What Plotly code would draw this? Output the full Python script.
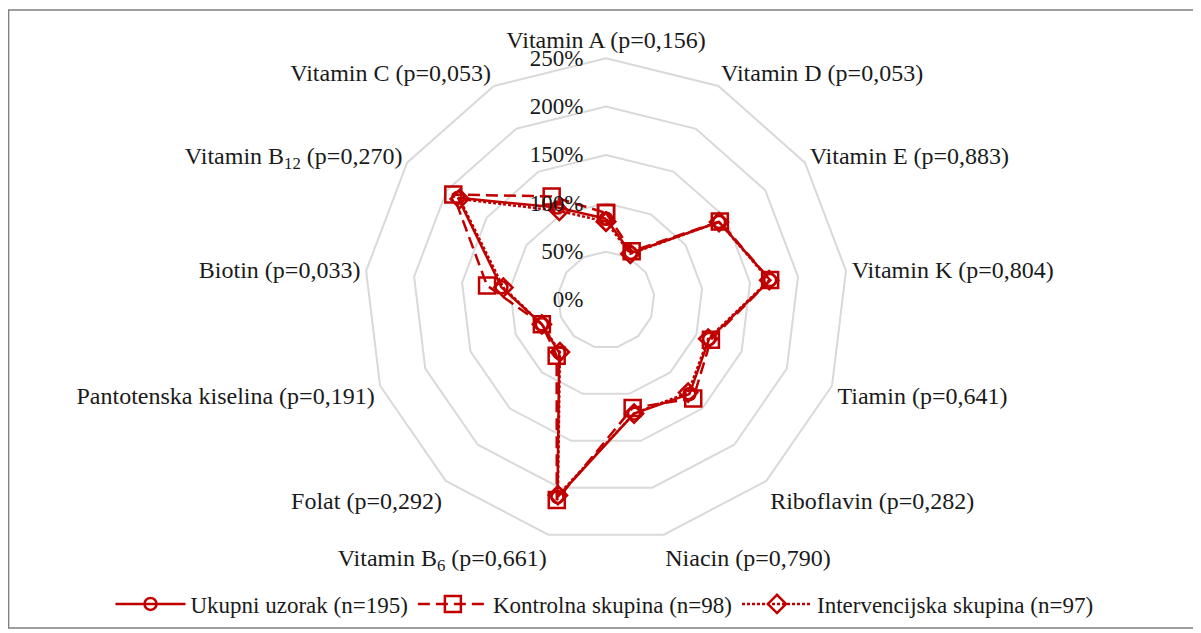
import plotly.graph_objects as go

# categories clockwise from the top
categories = ['Vitamin A (p=0,156)', 'Vitamin D (p=0,053)', 'Vitamin E (p=0,883)',
              'Vitamin K (p=0,804)', 'Tiamin (p=0,641)', 'Riboflavin (p=0,282)',
              'Niacin (p=0,790)', 'Vitamin B<sub>6</sub> (p=0,661)', 'Folat (p=0,292)',
              'Pantotenska kiselina (p=0,191)', 'Biotin (p=0,033)',
              'Vitamin B<sub>12</sub> (p=0,270)', 'Vitamin C (p=0,053)']

# % of recommended intake
ukupni = [84, 55, 142, 171, 114, 130, 121, 210, 73, 71, 109, 186, 108]
kontrolna = [90, 57, 143, 171, 116, 136, 115, 213, 77, 71, 124, 192, 121]
intervencijska = [81, 54, 142, 170, 113, 128, 121, 208, 72, 71, 107, 184, 104]

series_names = ['Ukupni uzorak (n=195)', 'Kontrolna skupina (n=98)', 'Intervencijska skupina (n=97)']
radial_ticks = [0, 50, 100, 150, 200, 250]
radial_labels = ['0%', '50%', '100%', '150%', '200%', '250%']

RED = '#C00000'
FONT = 'Liberation Serif, Times New Roman, serif'

styles = [
    dict(dash='solid', symbol='circle-open', size=12),
    dict(dash='12px,6px', symbol='square-open', size=16),
    dict(dash='3px,2px', symbol='diamond-open', size=14),
]

fig = go.Figure()
for name, vals, st in zip(series_names, [ukupni, kontrolna, intervencijska], styles):
    fig.add_trace(go.Scatterpolar(
        r=vals + vals[:1],
        theta=categories + categories[:1],
        name=name,
        mode='lines+markers',
        line=dict(color=RED, width=2.5, dash=st['dash']),
        marker=dict(symbol=st['symbol'], size=st['size'], color=RED,
                    line=dict(color=RED, width=2.5)),
    ))

# page body adds an 8px offset, so the figure is 8px smaller on each side
fig.update_layout(
    width=1193, height=625,
    margin=dict(l=0, r=0, t=0, b=0),
    paper_bgcolor='white',
    font=dict(family=FONT, size=23, color='#1a1a1a'),
    polar=dict(
        domain=dict(x=[0.2987, 0.7039], y=[0.1461, 0.9195]),
        bgcolor='white',
        gridshape='linear',
        radialaxis=dict(
            range=[0, 250], tickvals=radial_ticks, ticktext=radial_labels,
            angle=90, tickangle=90, side='counterclockwise',
            ticks='outside', ticklen=14, tickcolor='rgba(0,0,0,0)',
            showline=False, gridcolor='#d9d9d9', gridwidth=2,
            tickfont=dict(size=23, family=FONT),
        ),
        angularaxis=dict(
            direction='clockwise', rotation=90,
            showgrid=False, showline=True, linecolor='#d9d9d9', linewidth=2,
            ticks='', tickfont=dict(size=24, family=FONT),
        ),
    ),
    legend=dict(orientation='h', x=0.5, xanchor='center', y=0.0464, yanchor='middle',
                font=dict(size=23, family=FONT), itemwidth=70, traceorder='normal'),
    shapes=[dict(type='rect', xref='paper', yref='paper', x0=0.0005, x1=0.995, y0=0.008, y1=0.9968,
                 line=dict(color='#7f7f7f', width=1.5))],
)

fig.write_html('out.html')
